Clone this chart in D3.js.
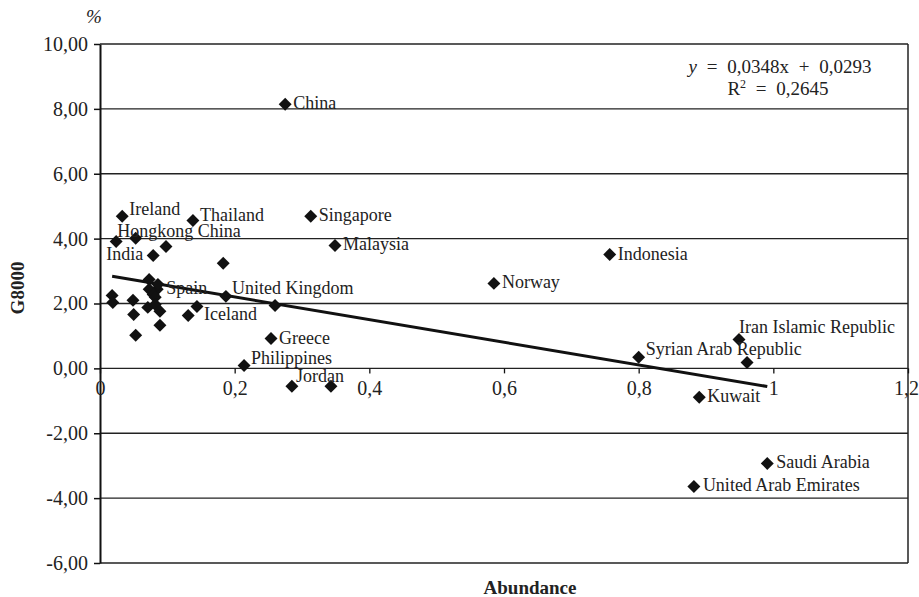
<!DOCTYPE html>
<html>
<head>
<meta charset="utf-8">
<script src="https://cdn.jsdelivr.net/npm/d3@7/dist/d3.min.js"></script>
<style>
  html, body { margin: 0; padding: 0; background: #fff; }
  svg { display: block; font-family: "Liberation Serif", "DejaVu Serif", serif; }
</style>
</head>
<body>
<svg id="chart" width="919" height="597"></svg>
<script>
// ---- Data ----
const countries = [
  "China", "Ireland", "Thailand", "Singapore", "Hongkong China", "", "India", "", "",
  "Malaysia", "Indonesia", "Norway", "Spain", "United Kingdom", "", "Iceland", "",
  "Greece", "Philippines", "Jordan", "", "Syrian Arab Republic", "Iran Islamic Republic", "",
  "Kuwait", "Saudi Arabia", "United Arab Emirates",
  "", "", "", "", "", "", "", "", "", "", "", "", "", ""
];
const abundance = [
  0.275, 0.033, 0.138, 0.313, 0.024, 0.053, 0.079, 0.098, 0.183,
  0.349, 0.757, 0.585, 0.085, 0.187, 0.260, 0.144, 0.131,
  0.254, 0.214, 0.285, 0.343, 0.800, 0.949, 0.961,
  0.890, 0.991, 0.882,
  0.018, 0.019, 0.049, 0.050, 0.053, 0.073, 0.073, 0.079, 0.082, 0.071, 0.082, 0.089, 0.089, 0.086
];
const g8000 = [
  8.14, 4.69, 4.56, 4.69, 3.91, 4.01, 3.48, 3.76, 3.24,
  3.79, 3.51, 2.62, 2.44, 2.22, 1.94, 1.91, 1.63,
  0.92, 0.09, -0.55, -0.55, 0.34, 0.89, 0.18,
  -0.89, -2.93, -3.64,
  2.25, 2.03, 2.10, 1.66, 1.02, 2.74, 2.44, 2.28, 2.19, 1.88, 1.97, 1.76, 1.33, 2.59
];
const yTicks = [-6, -4, -2, 0, 2, 4, 6, 8, 10];
const xTicks = [0, 0.2, 0.4, 0.6, 0.8, 1, 1.2];
const trendSlope = -3.49;
const trendIntercept = 2.90;
const equationText = "= 0,0348x + 0,0293";
const r2Text = " = 0,2645";

// ---- Layout ----
const svg = d3.select("#chart");
const x = d3.scaleLinear().domain([0, 1.2]).range([100, 908]);
const y = d3.scaleLinear().domain([-6, 10]).range([563, 44]);
const fmtY = v => v.toFixed(2).replace(".", ",");
const fmtX = v => String(v).replace(".", ",");
const SERIF = "Liberation Serif, DejaVu Serif, serif";

// gridlines
svg.append("g").selectAll("line").data(yTicks).join("line")
  .attr("x1", x(0)).attr("x2", x(1.2))
  .attr("y1", d => y(d)).attr("y2", d => y(d))
  .attr("stroke", "#222").attr("stroke-width", 1.3);

// right border
svg.append("line")
  .attr("x1", x(1.2)).attr("x2", x(1.2))
  .attr("y1", y(10)).attr("y2", y(-6))
  .attr("stroke", "#222").attr("stroke-width", 1.5);

// Y axis
const yAxis = svg.append("g").attr("transform", `translate(${x(0)},0)`)
  .call(d3.axisLeft(y).tickValues(yTicks).tickFormat(fmtY).tickSize(6).tickSizeOuter(0).tickPadding(6))
  .attr("font-family", SERIF).attr("font-size", 20);
yAxis.select(".domain").attr("stroke", "#111").attr("stroke-width", 2);
yAxis.selectAll(".tick line").attr("stroke", "#111").attr("stroke-width", 1.5);
yAxis.selectAll("text").attr("fill", "#222");

// X axis at y = 0
const xAxis = svg.append("g").attr("transform", `translate(0,${y(0)})`)
  .call(d3.axisBottom(x).tickValues(xTicks).tickFormat(fmtX).tickSize(5).tickSizeOuter(0).tickPadding(7))
  .attr("font-family", SERIF).attr("font-size", 20);
xAxis.select(".domain").remove();
xAxis.selectAll(".tick line").attr("stroke", "#111").attr("stroke-width", 1.3);
xAxis.selectAll("text").attr("fill", "#222")
  .attr("dx", d => d === 1.2 ? -2 : 0);

// trend line
const ext = d3.extent(abundance);
svg.append("line")
  .attr("x1", x(ext[0])).attr("y1", y(trendIntercept + trendSlope * ext[0]))
  .attr("x2", x(ext[1])).attr("y2", y(trendIntercept + trendSlope * ext[1]))
  .attr("stroke", "#111").attr("stroke-width", 3);

// markers
const pts = abundance.map((a, i) => ({ name: countries[i], a, g: g8000[i] }));
const diamond = {
  draw(ctx, size) {
    const r = Math.sqrt(size) / 2 * Math.SQRT2;
    ctx.moveTo(0, -r); ctx.lineTo(r, 0); ctx.lineTo(0, r); ctx.lineTo(-r, 0); ctx.closePath();
  }
};
svg.append("g").selectAll("path").data(pts).join("path")
  .attr("transform", d => `translate(${x(d.a)},${y(d.g)})`)
  .attr("d", d3.symbol().type(diamond).size(84))
  .attr("fill", "#111");

// labels
const place = {
  "Ireland": [7, -1], "Thailand": [7, 1], "Hongkong China": [1, -5],
  "India": [-10, 5, "end"], "Iran Islamic Republic": [0, -7], "Jordan": [4, -4],
  "United Kingdom": [6, -2], "Iceland": [7, 14], "Philippines": [7, -1],
  "Syrian Arab Republic": [7, -2], "Spain": [9, 5], "Saudi Arabia": [9, 5],
  "United Arab Emirates": [9, 5]
};
svg.append("g").selectAll("text").data(pts.filter(d => d.name)).join("text")
  .attr("x", d => x(d.a) + (place[d.name] ? place[d.name][0] : 8))
  .attr("y", d => y(d.g) + (place[d.name] ? place[d.name][1] : 5))
  .attr("text-anchor", d => (place[d.name] && place[d.name][2]) || "start")
  .attr("font-size", 18).attr("fill", "#222")
  .text(d => d.name);

// equation
const eq = svg.append("text").attr("x", 780).attr("y", 73).attr("text-anchor", "middle")
  .attr("font-size", 19).attr("fill", "#222").attr("word-spacing", 5);
eq.append("tspan").attr("font-style", "italic").text("y ");
eq.append("tspan").text(equationText);
const r2 = svg.append("text").attr("x", 778).attr("y", 95).attr("text-anchor", "middle")
  .attr("font-size", 19).attr("fill", "#222").attr("word-spacing", 5);
r2.append("tspan").text("R");
r2.append("tspan").attr("font-size", 12).attr("dy", -7).text("2");
r2.append("tspan").attr("dy", 7).text(r2Text);

// axis titles
svg.append("text").attr("x", 530).attr("y", 594).attr("text-anchor", "middle")
  .attr("font-size", 19).attr("font-weight", "bold").attr("fill", "#222").text("Abundance");
svg.append("text").attr("transform", "translate(24,288) rotate(-90)").attr("text-anchor", "middle")
  .attr("font-size", 19).attr("font-weight", "bold").attr("fill", "#222").text("G8000");
svg.append("text").attr("x", 94).attr("y", 23).attr("text-anchor", "middle")
  .attr("font-size", 19).attr("font-style", "italic").attr("fill", "#222").text("%");
</script>
</body>
</html>
